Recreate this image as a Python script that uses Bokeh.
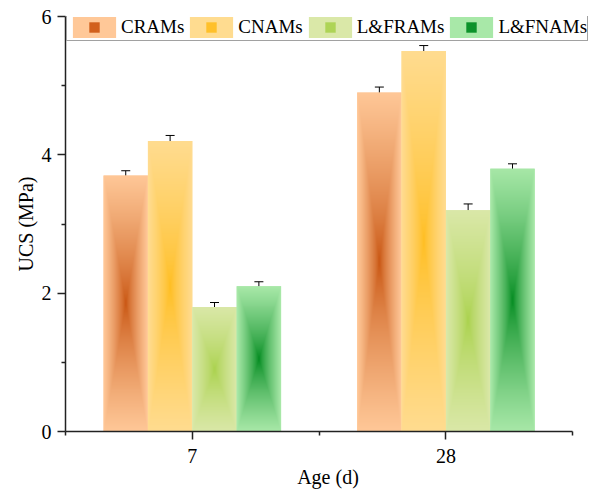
import numpy as np
from bokeh.plotting import figure
from bokeh.models import (Range1d, FixedTicker, Legend, LegendItem,
                          ColumnDataSource, Whisker, TeeHead)
from bokeh.embed import file_html
from bokeh.resources import INLINE

# ---------------- data ----------------
ages = ["7", "28"]
series = ["CRAMs", "CNAMs", "L&FRAMs", "L&FNAMs"]
ucs_crams = [3.7, 4.9]
ucs_cnams = [4.2, 5.5]
ucs_lframs = [1.8, 3.2]
ucs_lfnams = [2.1, 3.8]
err_crams = [0.07, 0.08]
err_cnams = [0.08, 0.08]
err_lframs = [0.065, 0.09]
err_lfnams = [0.065, 0.07]

values = [ucs_crams, ucs_cnams, ucs_lframs, ucs_lfnams]
errors = [err_crams, err_cnams, err_lframs, err_lfnams]

center_colors = ["#C85410", "#FFBE20", "#AAD24C", "#008A1E"]
edge_colors = ["#FFC898", "#FFDC90", "#DAE8A8", "#A8E8A8"]
mid_colors = ["#D2601C", "#FFC02A", "#AED456", "#0C922A"]

group_pos = [1, 3]
bar_w = 0.35
FONT = "Liberation Serif"


def hex2rgb(h):
    h = h.lstrip("#")
    return np.array([int(h[i:i + 2], 16) for i in (0, 2, 4)], dtype=float)


def grad_img(c0, c1, h, w, gamma=0.75):
    yy = np.linspace(-1, 1, h)[:, None]
    xx = np.linspace(-1, 1, w)[None, :]
    t = np.maximum(np.abs(xx), np.abs(yy)) ** gamma
    a, b = hex2rgb(c0), hex2rgb(c1)
    rgb = a[None, None, :] * (1 - t[..., None]) + b[None, None, :] * t[..., None]
    img = np.empty((h, w), dtype=np.uint32)
    view = img.view(dtype=np.uint8).reshape((h, w, 4))
    view[..., :3] = np.clip(rgb, 0, 255).astype(np.uint8)
    view[..., 3] = 255
    return img


p = figure(width=592, height=490, x_range=Range1d(0, 4.14), y_range=Range1d(0, 6),
           output_backend="svg", toolbar_location=None,
           min_border_left=65, min_border_right=2, min_border_top=16,
           min_border_bottom=57)
p.grid.visible = False
p.outline_line_color = None
p.background_fill_color = "white"

legend_items = []
n = len(series)
for i, name in enumerate(series):
    off = (i - (n - 1) / 2) * bar_w
    xs = [g + off for g in group_pos]
    tops = values[i]
    src = ColumnDataSource(dict(x=xs, top=tops, half=[t / 2 for t in tops],
                                upper=[t + e for t, e in zip(tops, errors[i])],
                                lower=[t - e for t, e in zip(tops, errors[i])]))
    vb = p.vbar(x="x", top="top", width=bar_w, source=src,
                fill_color=edge_colors[i], line_color=None)
    sc = p.scatter(x="x", y="half", source=src, marker="square", size=1,
                   fill_color=mid_colors[i], line_color=None)
    imgs = []
    for t in tops:
        h = max(int(t * 70), 10)
        imgs.append(grad_img(center_colors[i], edge_colors[i], h, 44))
    p.image_rgba(image=imgs, x=[x - bar_w / 2 for x in xs], y=[0] * len(xs),
                 dw=[bar_w] * len(xs), dh=tops)
    wh = Whisker(base="x", upper="upper", lower="lower", source=src,
                 line_color="black", line_width=1,
                 upper_head=TeeHead(size=9, line_color="black", line_width=1),
                 lower_head=TeeHead(size=9, line_color="black", line_width=1))
    p.add_layout(wh)
    legend_items.append(LegendItem(label=name, renderers=[vb, sc]))

legend = Legend(items=legend_items, orientation="horizontal", location=(1, 390),
                glyph_width=54, glyph_height=26, label_standoff=0, spacing=0,
                padding=0, margin=0, border_line_color="#444444",
                border_line_width=1.5, label_text_font=FONT,
                label_text_font_size="19px", label_text_color="black",
                background_fill_color="white", background_fill_alpha=1)
p.add_layout(legend)

# axes
p.xaxis.ticker = FixedTicker(ticks=group_pos, minor_ticks=[0, 2, 4])
p.xaxis.major_label_overrides = {g: a for g, a in zip(group_pos, ages)}
p.xaxis.axis_label = "Age (d)"
p.xaxis.bounds = (0, 4)
p.yaxis.ticker = FixedTicker(ticks=[0, 2, 4, 6], minor_ticks=[1, 3, 5])
p.yaxis.axis_label = "UCS (MPa)"
for ax in (p.xaxis, p.yaxis):
    ax.axis_line_color = "#222222"
    ax.axis_line_width = 1.5
    ax.major_tick_line_color = "#222222"
    ax.minor_tick_line_color = "#222222"
    ax.major_tick_line_width = 1.5
    ax.minor_tick_line_width = 1.5
    ax.major_tick_out = 8
    ax.major_tick_in = 0
    ax.minor_tick_out = 4
    ax.minor_tick_in = 0
    ax.major_label_text_font = FONT
    ax.major_label_text_font_size = "20px"
    ax.major_label_text_color = "black"
    ax.axis_label_text_font = FONT
    ax.axis_label_text_font_size = "20px"
    ax.axis_label_text_font_style = "normal"
    ax.axis_label_text_color = "black"
p.xaxis.major_label_standoff = 9
p.xaxis.axis_label_standoff = 0
p.yaxis.major_label_standoff = 6
p.yaxis.axis_label_standoff = 2

open("out.html", "w").write(file_html(p, INLINE))
